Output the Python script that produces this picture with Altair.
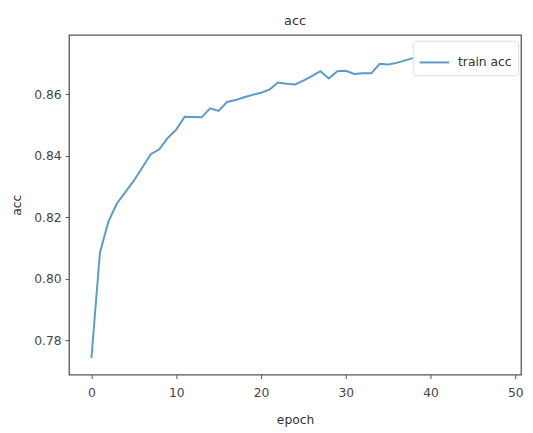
import altair as alt
import pandas as pd

epochs = list(range(50))
train_acc = [
    0.7743, 0.8085, 0.8186, 0.8245, 0.8282, 0.8319, 0.8362, 0.8405, 0.8421, 0.8458,
    0.8485, 0.8527, 0.8526, 0.8525, 0.8554, 0.8546, 0.8575, 0.8581, 0.8590, 0.8598,
    0.8605, 0.8615, 0.8638, 0.8634, 0.8632, 0.8644, 0.8659, 0.8675, 0.8651, 0.8675,
    0.8676, 0.8666, 0.8668, 0.8668, 0.8699, 0.8697, 0.8702, 0.8710, 0.8718, 0.8721,
    0.8724, 0.8727, 0.8730, 0.8732, 0.8735, 0.8737, 0.8739, 0.8741, 0.8742, 0.8744,
]
series_name = "train acc"
x_ticks = [0, 10, 20, 30, 40, 50]
y_ticks = [0.78, 0.80, 0.82, 0.84, 0.86]

df = pd.DataFrame({"epoch": epochs, "acc": train_acc, "series": series_name})

FONT = "DejaVu Sans"
line_color = "#5a9bc9"

chart = (
    alt.Chart(df)
    .mark_line(strokeWidth=2, clip=True)
    .encode(
        x=alt.X(
            "epoch:Q",
            scale=alt.Scale(domain=[-2.64, 50.67], nice=False, zero=False),
            axis=alt.Axis(values=x_ticks, title="epoch", format="d"),
        ),
        y=alt.Y(
            "acc:Q",
            scale=alt.Scale(domain=[0.7689, 0.8793], nice=False, zero=False),
            axis=alt.Axis(values=y_ticks, title="acc", format=".2f"),
        ),
        color=alt.Color(
            "series:N",
            scale=alt.Scale(domain=[series_name], range=[line_color]),
            legend=alt.Legend(
                title=None,
                orient="none",
                legendX=349,
                legendY=6,
                symbolType="stroke",
                symbolSize=900,
                symbolStrokeWidth=2,
                labelFontSize=12.5,
                labelFont=FONT,
                labelColor="#333",
                labelOffset=8,
                padding=6,
                fillColor="#ffffff",
                strokeColor="#dddddd",
                cornerRadius=3,
            ),
        ),
    )
    .properties(
        width=459,
        height=345,
        title=alt.Title("acc", font=FONT, fontSize=13, fontWeight="normal", color="#333", offset=7),
        autosize=alt.AutoSizeParams(type="none"),
        padding={"left": 62, "top": 24, "right": 4, "bottom": 52},
    )
    .configure_view(stroke="#555", strokeWidth=1.3)
    .configure_axis(
        domain=False,
        grid=False,
        ticks=True,
        tickColor="#555",
        tickSize=4,
        labelFont=FONT,
        labelFontSize=12.5,
        labelColor="#444",
        labelPadding=4,
        titleFont=FONT,
        titleFontSize=12.5,
        titleFontWeight="normal",
        titleColor="#333",
    )
    .configure_axisX(labelPadding=8, titlePadding=15)
    .configure_axisY(titlePadding=10)
)

chart.save("out.html", embed_options={"renderer": "svg", "actions": False})
